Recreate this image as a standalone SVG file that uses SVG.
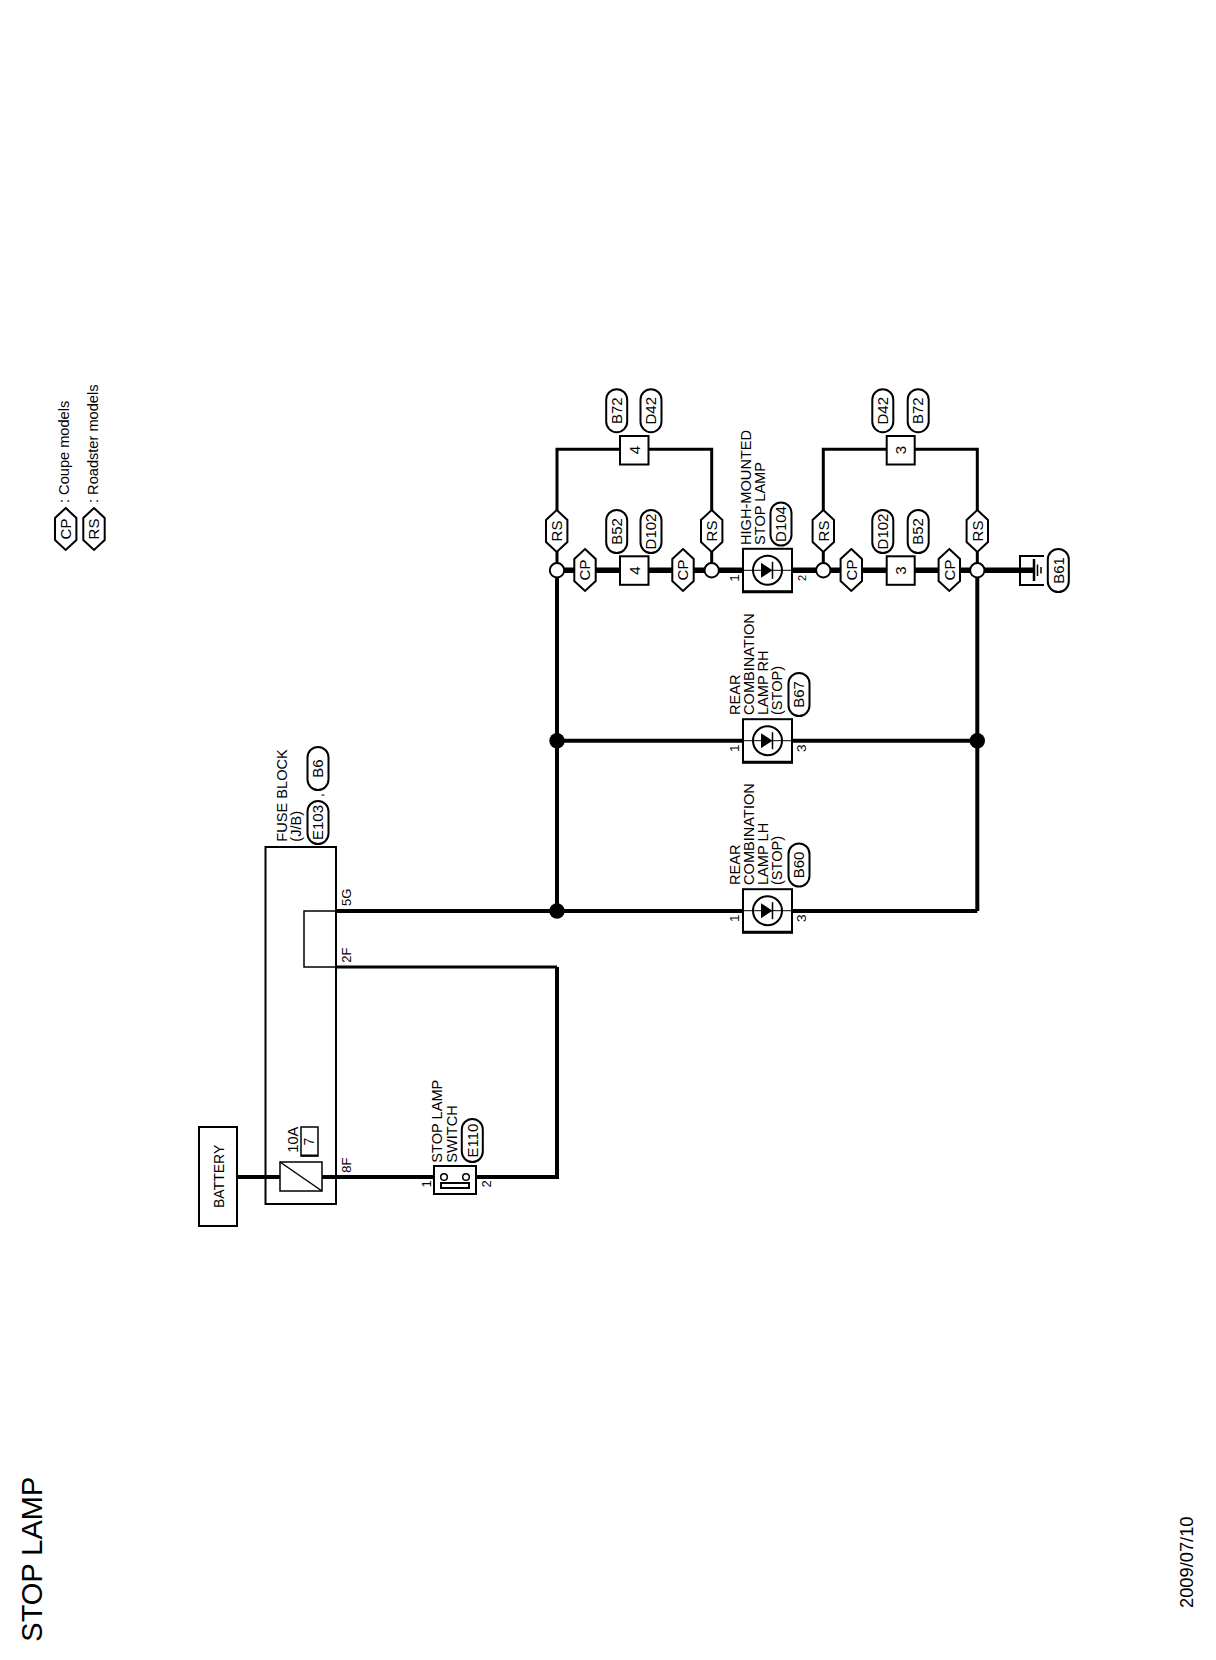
<svg xmlns="http://www.w3.org/2000/svg" width="1216" height="1660" viewBox="0 0 1216 1660">
<style>
text{font-family:"Liberation Sans",Arial,sans-serif;fill:#000}
.l{font-size:14.6px}
.c{font-size:15px;text-anchor:middle}
.n{font-size:13.5px;text-anchor:middle}
.box{fill:#fff;stroke:#000;stroke-width:2}
.thin{fill:none;stroke:#000;stroke-width:1.5}
.w{fill:none;stroke:#000;stroke-width:4}
.m{fill:none;stroke:#000;stroke-width:3}
.t{fill:none;stroke:#000;stroke-width:5.5}
.pill{fill:#fff;stroke:#000;stroke-width:2}
.hex{fill:#fff;stroke:#000;stroke-width:2}
.o{fill:#fff;stroke:#000;stroke-width:2}
</style>
<defs>
<rect id="pillV" class="pill" x="-10.5" y="-21.5" width="21" height="43" rx="10.5" ry="10.5"/>
<polygon id="hexV" class="hex" points="0,-21 10.7,-11 10.7,11 0,21 -10.7,11 -10.7,-11"/>
<g id="lamp">
<rect class="box" x="-24.5" y="-21.5" width="49" height="43"/>
<path d="M-25.5 21.5H25.5" fill="none" stroke="#000" stroke-width="3"/>
<path d="M-24.5 0H24.5" fill="none" stroke="#000" stroke-width="1"/>
<circle r="14.5" fill="none" stroke="#000" stroke-width="2"/>
<path d="M-6.5 -7.5L5 0L-6.5 7.5Z" fill="#000"/>
<path d="M5 -8.5V8.5" fill="none" stroke="#000" stroke-width="1.5"/>
</g>
</defs>

<g id="connectors">
<path class="w" d="M237 1177H280M322 1177H434M476 1177H557V967"/>
<path class="m" d="M336 967H557"/>
<path class="w" d="M336 911H977.3"/>
<path class="w" d="M977.3 911V570"/>
<path class="w" d="M557 911V570"/>
<path class="w" d="M557 740.7H977.3"/>
<path class="t" d="M557 570.3H743"/>
<path class="t" d="M792 570.3H1034"/>
<path class="m" d="M557 570V449.3H711.7V570"/>
<path class="m" d="M823.3 570V449.3H977.3V570"/>
</g>

<g id="title"><text transform="translate(41.5 1641.7) rotate(-90)" font-size="29">STOP LAMP</text></g>
<g id="date"><text transform="translate(1192.5 1608) rotate(-90)" font-size="18.3">2009/07/10</text></g>

<g id="legend">
<use href="#hexV" x="65.7" y="529"/>
<text class="c" transform="translate(70.8 529) rotate(-90)">CP</text>
<use href="#hexV" x="94" y="529"/>
<text class="c" transform="translate(99.2 529) rotate(-90)">RS</text>
<text class="l" transform="translate(69.3 503) rotate(-90)">: Coupe models</text>
<text class="l" transform="translate(98.3 503) rotate(-90)">: Roadster models</text>
</g>

<g id="battery">
<rect class="box" x="199" y="1127" width="38" height="99"/>
<text transform="translate(224.3 1208) rotate(-90)" font-size="14">BATTERY</text>
</g>

<g id="fuse-block">
<rect class="box" style="fill:none" x="265.5" y="847" width="70.5" height="357"/>
<rect class="thin" x="304" y="911" width="32" height="56"/>
<rect class="box" x="280" y="1162" width="42" height="29" style="stroke-width:1.5"/>
<path d="M280 1162L322 1191" fill="none" stroke="#000" stroke-width="1.5"/>
<rect x="301" y="1127" width="17" height="29" fill="#fff" stroke="#000" stroke-width="1.5"/>
<path d="M301 1155.5H318" stroke="#000" stroke-width="2"/>
<text class="l" transform="translate(287.3 841.7) rotate(-90)">FUSE BLOCK</text>
<text class="l" transform="translate(300.7 841.7) rotate(-90)">(J/B)</text>
<use href="#pillV" x="318" y="822.5"/>
<text class="c" transform="translate(323.2 822.5) rotate(-90)">E103</text>
<use href="#pillV" x="318" y="768.5"/>
<text class="c" transform="translate(323.2 768.5) rotate(-90)">B6</text>
<text class="n" transform="translate(323 795) rotate(-90)">,</text>
<text class="l" style="font-size:13px" transform="translate(350.7 906) rotate(-90)">5G</text>
<text class="l" style="font-size:13px" transform="translate(350.7 962.7) rotate(-90)">2F</text>
<text class="l" style="font-size:13px" transform="translate(350.7 1172.7) rotate(-90)">8F</text>
<text class="l" transform="translate(298.3 1152.7) rotate(-90)">10A</text>
<text class="n" style="font-size:14px" transform="translate(314 1141.5) rotate(-90)">7</text>
</g>

<g id="stop-lamp-switch">
<rect class="box" x="434" y="1166" width="42" height="28"/>
<circle class="o" cx="444" cy="1177" r="3.3" style="stroke-width:1.5"/>
<circle class="o" cx="466" cy="1177" r="3.3" style="stroke-width:1.5"/>
<rect x="441" y="1183" width="28" height="5" fill="#fff" stroke="#000" stroke-width="2"/>
<text class="l" transform="translate(441.7 1162.7) rotate(-90)">STOP LAMP</text>
<text class="l" transform="translate(456.7 1162.7) rotate(-90)">SWITCH</text>
<use href="#pillV" x="472.3" y="1140.5"/>
<text class="c" transform="translate(477.5 1140.5) rotate(-90)">E110</text>
<text class="n" style="font-size:13px" transform="translate(430.7 1184) rotate(-90)">1</text>
<text class="n" style="font-size:13px" transform="translate(491 1184) rotate(-90)">2</text>
</g>

<g id="junctions">
<circle cx="557" cy="911" r="7.7"/>
<circle cx="557" cy="740.7" r="7.7"/>
<circle cx="977.3" cy="740.7" r="7.7"/>
<circle class="o" cx="557" cy="570.3" r="7.2"/>
<circle class="o" cx="711.7" cy="570.3" r="7.2"/>
<circle class="o" cx="823.3" cy="570.3" r="7.2"/>
<circle class="o" cx="977.3" cy="570.3" r="7.2"/>
</g>

<g id="rear-lamp-lh">
<use href="#lamp" x="767.5" y="910.7"/>
<text class="l" transform="translate(740 885) rotate(-90)">REAR</text>
<text class="l" transform="translate(754 885) rotate(-90)">COMBINATION</text>
<text class="l" transform="translate(768.3 885) rotate(-90)">LAMP LH</text>
<text class="l" transform="translate(782.3 885) rotate(-90)">(STOP)</text>
<use href="#pillV" x="799" y="865"/>
<text class="c" transform="translate(804.2 865) rotate(-90)">B60</text>
<text class="n" transform="translate(739.3 918.3) rotate(-90)">1</text>
<text class="n" transform="translate(806 918.3) rotate(-90)">3</text>
</g>

<g id="rear-lamp-rh">
<use href="#lamp" x="767.5" y="740.7"/>
<text class="l" transform="translate(740 715) rotate(-90)">REAR</text>
<text class="l" transform="translate(754 715) rotate(-90)">COMBINATION</text>
<text class="l" transform="translate(768.3 715) rotate(-90)">LAMP RH</text>
<text class="l" transform="translate(782.3 715) rotate(-90)">(STOP)</text>
<use href="#pillV" x="799" y="694.5"/>
<text class="c" transform="translate(804.2 694.5) rotate(-90)">B67</text>
<text class="n" transform="translate(739.3 748.3) rotate(-90)">1</text>
<text class="n" transform="translate(806 748.3) rotate(-90)">3</text>
</g>

<g id="high-mounted-stop-lamp">
<use href="#lamp" x="767.5" y="570.3"/>
<text class="l" transform="translate(750.7 545) rotate(-90)">HIGH-MOUNTED</text>
<text class="l" transform="translate(765 545) rotate(-90)">STOP LAMP</text>
<use href="#pillV" x="781" y="524"/>
<text class="c" transform="translate(786.2 524) rotate(-90)">D104</text>
<text class="n" transform="translate(739.3 578) rotate(-90)">1</text>
<text class="n" style="font-size:11px" transform="translate(806 578) rotate(-90)">2</text>
</g>

<g id="connector-4-rs">
<rect class="box" x="620" y="436" width="28.5" height="28.5"/>
<text class="c" transform="translate(639.5 450) rotate(-90)">4</text>
<use href="#pillV" x="616.7" y="410.7"/>
<text class="c" transform="translate(621.9 410.7) rotate(-90)">B72</text>
<use href="#pillV" x="651" y="410.7"/>
<text class="c" transform="translate(656.2 410.7) rotate(-90)">D42</text>
</g>
<g id="connector-4-cp">
<rect class="box" x="620" y="556.3" width="28.5" height="28.5"/>
<text class="c" transform="translate(639.5 570.5) rotate(-90)">4</text>
<use href="#pillV" x="616.7" y="531.5"/>
<text class="c" transform="translate(621.9 531.5) rotate(-90)">B52</text>
<use href="#pillV" x="651" y="531.5"/>
<text class="c" transform="translate(656.2 531.5) rotate(-90)">D102</text>
</g>
<g id="connector-3-rs">
<rect class="box" x="886.7" y="436" width="28" height="28.5"/>
<text class="c" transform="translate(906 450) rotate(-90)">3</text>
<use href="#pillV" x="882.8" y="410.7"/>
<text class="c" transform="translate(888 410.7) rotate(-90)">D42</text>
<use href="#pillV" x="918.2" y="410.7"/>
<text class="c" transform="translate(923.4 410.7) rotate(-90)">B72</text>
</g>
<g id="connector-3-cp">
<rect class="box" x="886.7" y="556.3" width="28" height="28.5"/>
<text class="c" transform="translate(906 570.5) rotate(-90)">3</text>
<use href="#pillV" x="882.8" y="531.5"/>
<text class="c" transform="translate(888 531.5) rotate(-90)">D102</text>
<use href="#pillV" x="918.2" y="531.5"/>
<text class="c" transform="translate(923.4 531.5) rotate(-90)">B52</text>
</g>

<g id="options">
<use href="#hexV" x="556.7" y="531"/><text class="c" transform="translate(561.9 531) rotate(-90)">RS</text>
<use href="#hexV" x="711.7" y="531"/><text class="c" transform="translate(716.9 531) rotate(-90)">RS</text>
<use href="#hexV" x="823.3" y="531"/><text class="c" transform="translate(828.5 531) rotate(-90)">RS</text>
<use href="#hexV" x="977.3" y="531"/><text class="c" transform="translate(982.5 531) rotate(-90)">RS</text>
<use href="#hexV" x="585" y="570"/><text class="c" transform="translate(590.2 570) rotate(-90)">CP</text>
<use href="#hexV" x="683" y="570"/><text class="c" transform="translate(688.2 570) rotate(-90)">CP</text>
<use href="#hexV" x="851.3" y="570"/><text class="c" transform="translate(856.5 570) rotate(-90)">CP</text>
<use href="#hexV" x="949.3" y="570"/><text class="c" transform="translate(954.5 570) rotate(-90)">CP</text>
</g>

<g id="ground">
<path d="M1044 556H1020V585H1044" fill="none" stroke="#000" stroke-width="2"/>
<path d="M1034 559V581" stroke="#000" stroke-width="2.5"/>
<path d="M1037.5 564.5V576" stroke="#000" stroke-width="1.5"/>
<path d="M1041 567V573.5" stroke="#000" stroke-width="1.5"/>
<use href="#pillV" x="1058.3" y="570.5"/>
<text class="c" transform="translate(1063.5 570.5) rotate(-90)">B61</text>
</g>
</svg>
